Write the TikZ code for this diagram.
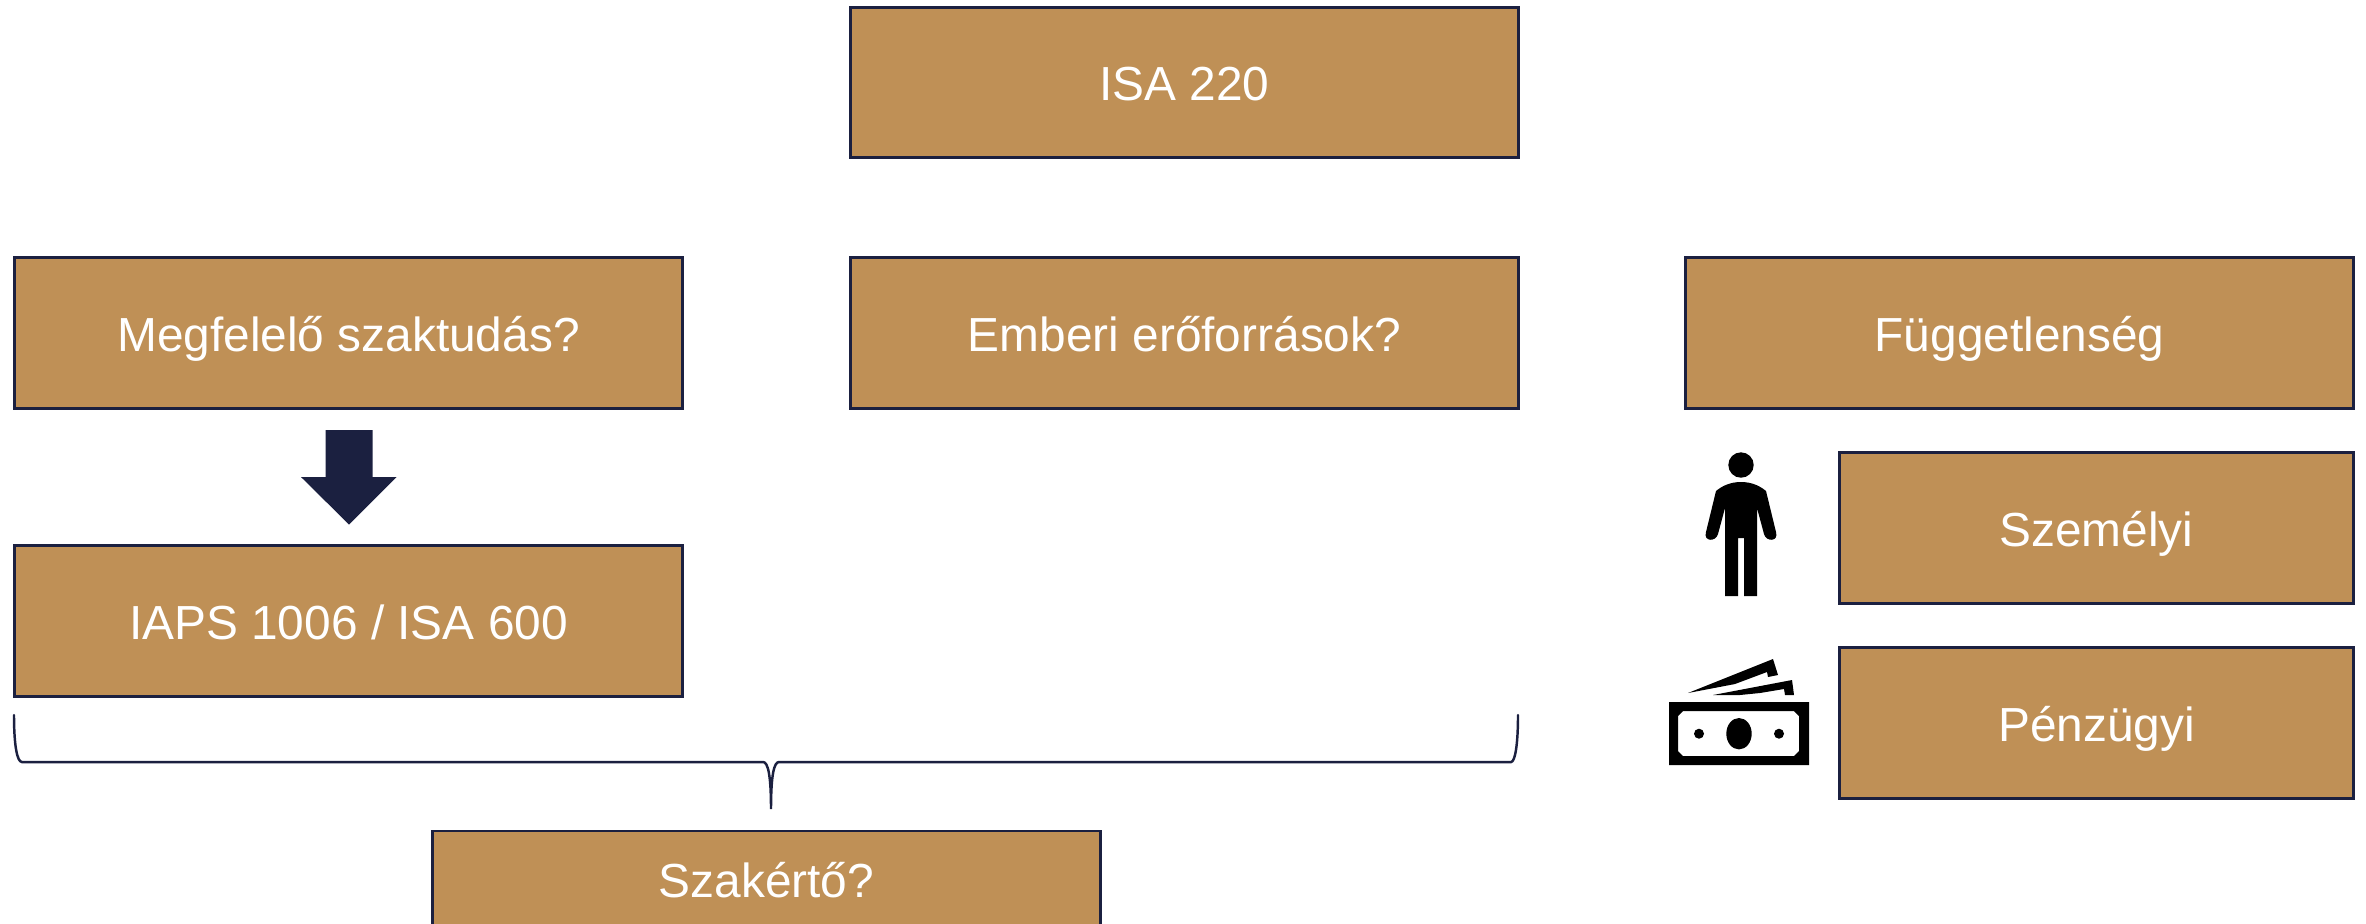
\documentclass[tikz,border=0pt]{standalone}
\usepackage{fontspec}
\setmainfont{Liberation Sans}
\definecolor{boxfill}{RGB}{191,144,86}
\definecolor{boxline}{RGB}{27,32,64}
\tikzset{
	boxnode/.style={draw=boxline,fill=boxfill,line width=0.85pt,text=white,font=\fontsize{13.6}{16}\selectfont,text height=0.46cm,text depth=0.10cm,minimum width=6.67cm,minimum height=1.50cm,inner sep=0pt,anchor=center},
	subnode/.style={boxnode,minimum width=5.14cm}
}
\begin{document}
\begin{tikzpicture}
	[x=0.01cm,y=-0.01cm,line join=miter]
	\useasboundingbox (0,0) rectangle (2366,923);
	\clip (0,0) rectangle (2366,923);
	\node[boxnode] (isa) at (1184.5,82.5) {ISA 220};
	\node[boxnode] (szaktudas) at (348.5,333) {Megfelelő szaktudás?};
	\node[boxnode] (emberi) at (1184.5,333) {Emberi erőforrások?};
	\node[boxnode] (fuggetlen) at (2019.5,333) {Függetlenség};
	\node[boxnode] (iaps) at (348.5,621) {IAPS 1006 / ISA 600};
	\node[subnode] (szemelyi) at (2096.5,528) {Személyi};
	\node[subnode] (penzugyi) at (2096.5,723) {Pénzügyi};
	\node[boxnode,minimum height=0.96cm] (szakerto) at (766.5,879) {Szakértő?};
	% arrow
	\fill[boxline] (325.5,430)--(372.5,430)--(372.5,477)--(396.5,477)--(349,524.5)--(301,477)--(325.5,477)--cycle;
	% brace
	\draw[boxline,line width=0.7pt,line cap=round] (14,715) .. controls (14,745) and (17,762) .. (22,762)--(763,762)
		.. controls (768,762) and (771,775) .. (771,809) .. controls (771,775) and (774,762) .. (779,762)--(1511,762)
		.. controls (1515,762) and (1518,745) .. (1518,715);
	% person
	\fill (1741,465) circle (12.7);
	\fill (1741,482) .. controls (1730,482) and (1722,486) .. (1716,491)--(1706,532)
		.. controls (1703,542) and (1716,542) .. (1718,534)--(1725,508)--(1725,596)--(1738,596)--(1738,538)--(1744,538)--(1744,596)--(1757,596)--(1757,508)
		--(1764,534) .. controls (1766,542) and (1779,542) .. (1776,532)--(1766,491) .. controls (1760,486) and (1752,482) .. (1741,482)--cycle;
	% money
	\fill[even odd rule] (1669,702)--(1809,702)--(1809,765)--(1669,765)--cycle
		(1683,711)--(1794,711)--(1799,716)--(1799,751)--(1794,756)--(1683,756)--(1678,751)--(1678,716)--cycle;
	\fill (1739,733.7) ellipse (12.7 and 15.7);
	\fill (1699,733.7) circle (5);
	\fill (1779,733.7) circle (5);
	\fill (1688,693)--(1773,659)--(1778,675)--(1768,677)--(1767,672)--(1735,684)--cycle;
	\fill (1713,695)--(1792,680)--(1794,695)--(1785,695)--(1784,689)--(1760,693)--(1740,695)--cycle;
\end{tikzpicture}
\end{document}
